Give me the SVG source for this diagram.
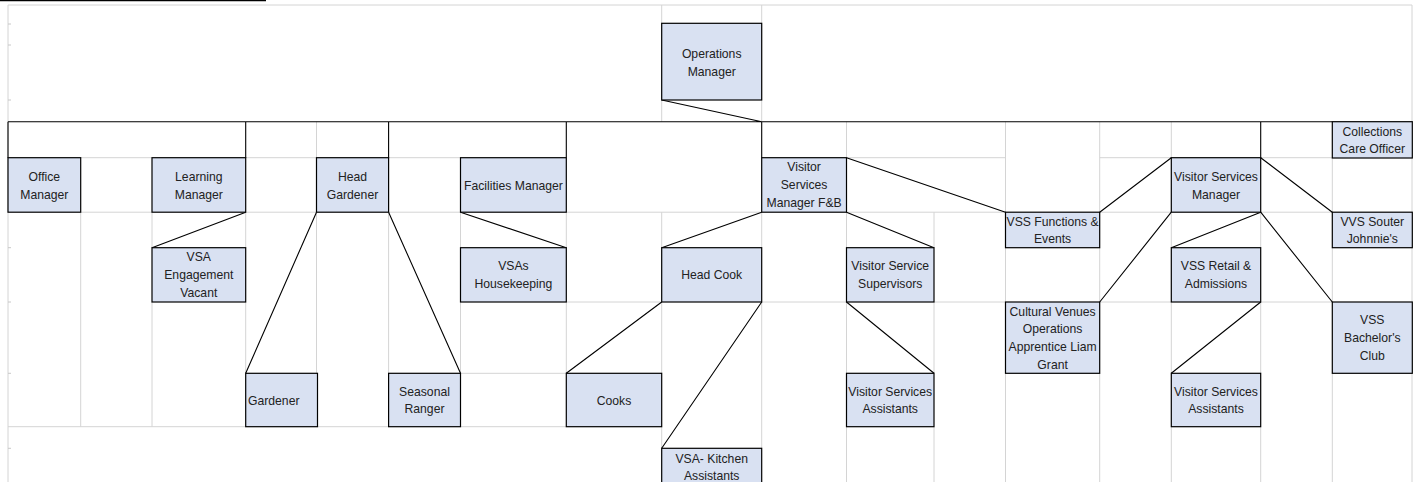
<svg xmlns="http://www.w3.org/2000/svg" width="1418" height="482" viewBox="0 0 1418 482">
<style>
.g{stroke:#d4d4d4;stroke-width:1;fill:none}
.t{stroke:#c8c8c8;stroke-width:1}
.c{stroke:#000;stroke-width:1.1;fill:none}
.b{fill:#d9e1f2;stroke:#000;stroke-width:1.2}
text{font-family:"Liberation Sans",Arial,sans-serif;font-size:12.2px;fill:#222;text-anchor:middle}
text.l{text-anchor:start}
</style>
<rect width="1418" height="482" fill="#fff"/>
<line x1="0" y1="0.6" x2="266" y2="0.6" stroke="#000" stroke-width="1.4"/>
<g id="grid">
<path class="g" d="M8,5H1412 M8,5V482 M1412,5V482
M661.7,5V121.7 M761.7,5V121.7
M80.7,157.7H152 M245.7,157.7H316.5 M388.6,157.7H460.5 M846.5,157.7H1005.5 M1099.7,157.7H1171.3 M1260.7,157.7H1332.3
M80.7,212.2H152 M245.7,212.2H316.5 M388.6,212.2H460.5 M566.3,212.2H761.7 M846.5,212.2H1005.5 M1099.7,212.2H1171.3 M1260.7,212.2H1332.3
M566.3,302H661.7 M761.7,302H846.5 M934,302H1005.5 M1099.7,302H1171.3 M1260.7,302H1332.3
M460.5,373.3H566.3
M8,426.7H245.7 M317.5,426.7H388.6 M460.5,426.7H566.3
M80.7,212.2V426.7
M152,212.2V247.7 M152,302V426.7
M245.7,212.2V247.7 M245.7,302V373.3
M316.5,121.7V157.7 M316.5,212.2V373.3
M388.6,212.2V373.3
M460.5,212.2V247.7 M460.5,302V373.3
M566.3,212.2V247.7 M566.3,302V373.3
M661.7,212.2V247.7 M661.7,302V373.3 M661.7,426.7V448.3
M761.7,212.2V247.7 M761.7,302V448.3
M846.5,121.7V157.7 M846.5,212.2V247.7 M846.5,302V373.3 M846.5,426.7V482
M934,212.2V247.7 M934,302V373.3 M934,426.7V482
M1005.5,121.7V212.2 M1005.5,247.7V302 M1005.5,373.3V482
M1099.7,121.7V212.2 M1099.7,247.7V302 M1099.7,373.3V482
M1171.3,121.7V157.7 M1171.3,212.2V247.7 M1171.3,302V373.3 M1171.3,426.7V482
M1260.7,212.2V247.7 M1260.7,302V373.3 M1260.7,426.7V482
M1332.3,157.7V212.2 M1332.3,247.7V302 M1332.3,373.3V482"/>
<path class="t" d="M8,24h3 M8,45h3 M8,100h3 M8,247.7h3 M8,302h3 M8,373.3h3 M8,448.3h3"/>
</g>
<g id="connectors">
<path class="c" d="M661.7,100L761.7,121.7
M8,121.7H1332.3
M8,121.7V157.7 M245.7,121.7V157.7 M388.6,121.7V157.7 M566.3,121.7V157.7 M761.7,121.7V157.7 M1260.7,121.7V157.7
M245.7,212.2L152,247.7
M316.5,212.2L245.7,373.3
M388.6,212.2L460.5,373.3
M460.5,212.2L566.3,247.7
M761.7,212.2L661.7,247.7
M846.5,212.2L934,247.7
M846.5,157.7L1005.5,212.2
M661.7,302L566.3,373.3
M761.7,302L661.7,448.3
M846.5,302L934,373.3
M1099.7,212.2L1171.3,157.7
M1171.3,212.2L1099.7,302
M1260.7,212.2L1171.3,247.7
M1260.7,212.2L1332.3,302
M1260.7,157.7L1332.3,212.2
M1260.7,302L1171.3,373.3"/>
</g>
<g id="ops"><rect class="b" x="661.7" y="23.3" width="100" height="76.7"/><text x="711.7" y="58">Operations</text><text x="711.7" y="76">Manager</text></g>
<g id="office"><rect class="b" x="8" y="157.7" width="72.7" height="54.5"/><text x="44.3" y="181">Office</text><text x="44.3" y="199">Manager</text></g>
<g id="learning"><rect class="b" x="152" y="157.7" width="93.7" height="54.5"/><text x="198.8" y="181">Learning</text><text x="198.8" y="199">Manager</text></g>
<g id="headgardener"><rect class="b" x="316.5" y="157.7" width="72.1" height="54.5"/><text x="352.5" y="181">Head</text><text x="352.5" y="199">Gardener</text></g>
<g id="facilities"><rect class="b" x="460.5" y="157.7" width="105.8" height="54.5"/><text x="513.4" y="189.5">Facilities Manager</text></g>
<g id="vsmfb"><rect class="b" x="761.7" y="157.7" width="84.8" height="54.5"/><text x="804.1" y="171">Visitor</text><text x="804.1" y="189">Services</text><text x="804.1" y="207">Manager F&amp;B</text></g>
<g id="collections"><rect class="b" x="1332.3" y="121.7" width="80" height="36.3"/><text x="1372.3" y="135.5">Collections</text><text x="1372.3" y="153">Care Officer</text></g>
<g id="vsm"><rect class="b" x="1171.3" y="157.7" width="89.4" height="54.5"/><text x="1216" y="181">Visitor Services</text><text x="1216" y="199">Manager</text></g>
<g id="vssfunctions"><rect class="b" x="1005.5" y="212.2" width="94.2" height="35.5"/><text x="1052.6" y="225.5">VSS Functions &amp;</text><text x="1052.6" y="243.3">Events</text></g>
<g id="vvssouter"><rect class="b" x="1332.3" y="212.2" width="80" height="35.5"/><text x="1372.3" y="225.5">VVS Souter</text><text x="1372.3" y="243.3">Johnnie's</text></g>
<g id="vsaengagement"><rect class="b" x="152" y="247.7" width="93.7" height="54.3"/><text x="198.8" y="261">VSA</text><text x="198.8" y="279">Engagement</text><text x="198.8" y="297">Vacant</text></g>
<g id="housekeeping"><rect class="b" x="460.5" y="247.7" width="105.8" height="54.3"/><text x="513.4" y="270">VSAs</text><text x="513.4" y="288">Housekeeping</text></g>
<g id="headcook"><rect class="b" x="661.7" y="247.7" width="100" height="54.3"/><text x="711.7" y="279.3">Head Cook</text></g>
<g id="supervisors"><rect class="b" x="846.5" y="247.7" width="87.5" height="54.3"/><text x="890.2" y="270">Visitor Service</text><text x="890.2" y="288">Supervisors</text></g>
<g id="retail"><rect class="b" x="1171.3" y="247.7" width="89.4" height="54.3"/><text x="1216" y="270">VSS Retail &amp;</text><text x="1216" y="288">Admissions</text></g>
<g id="cultural"><rect class="b" x="1005.5" y="302" width="94.2" height="71.3"/><text x="1052.6" y="315.5">Cultural Venues</text><text x="1052.6" y="333.3">Operations</text><text x="1052.6" y="351">Apprentice Liam</text><text x="1052.6" y="368.5">Grant</text></g>
<g id="bachelor"><rect class="b" x="1332.3" y="302" width="80" height="71.3"/><text x="1372.3" y="324">VSS</text><text x="1372.3" y="342">Bachelor's</text><text x="1372.3" y="360">Club</text></g>
<g id="gardener"><rect class="b" x="245.7" y="373.3" width="71.8" height="53.4"/><text class="l" x="248" y="404.5">Gardener</text></g>
<g id="ranger"><rect class="b" x="388.6" y="373.3" width="71.9" height="53.4"/><text x="424.5" y="395.5">Seasonal</text><text x="424.5" y="413.3">Ranger</text></g>
<g id="cooks"><rect class="b" x="566.3" y="373.3" width="95.4" height="53.4"/><text x="614" y="404.5">Cooks</text></g>
<g id="vsa1"><rect class="b" x="846.5" y="373.3" width="87.5" height="53.4"/><text x="890.2" y="395.5">Visitor Services</text><text x="890.2" y="413.3">Assistants</text></g>
<g id="vsa2"><rect class="b" x="1171.3" y="373.3" width="89.4" height="53.4"/><text x="1216" y="395.5">Visitor Services</text><text x="1216" y="413.3">Assistants</text></g>
<g id="kitchen"><rect class="b" x="661.7" y="448.3" width="100" height="40"/><text x="711.7" y="462.7">VSA- Kitchen</text><text x="711.7" y="479.5">Assistants</text></g>
</svg>
